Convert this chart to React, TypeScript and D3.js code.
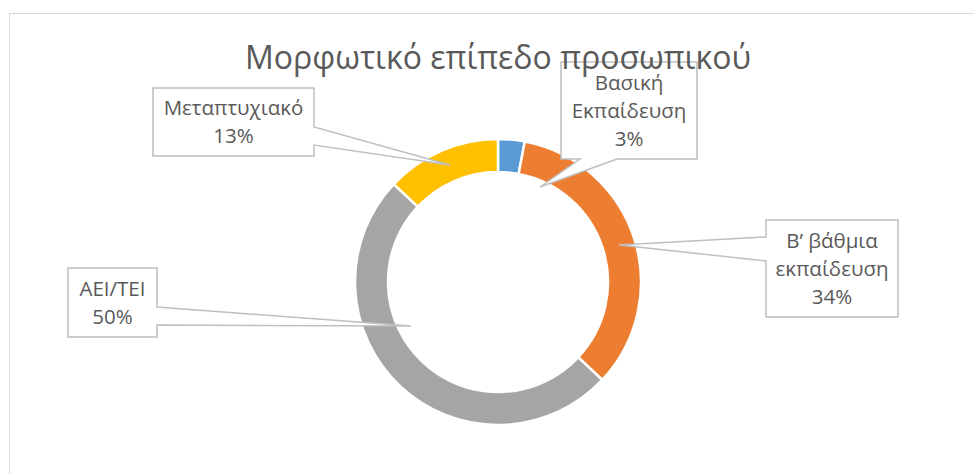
import * as d3 from "d3";

const categories = ["Βασική Εκπαίδευση", "Β’ βάθμια εκπαίδευση", "ΑΕΙ/ΤΕΙ", "Μεταπτυχιακό"];
const shares = [3, 34, 50, 13];
const colors = ["#5b9bd5", "#ed7d31", "#a5a5a5", "#ffc000"];
const labelLines = [
  ["Βασική", "Εκπαίδευση", "3%"],
  ["B’ βάθμια", "εκπαίδευση", "34%"],
  ["AEI/TEI", "50%"],
  ["Μεταπτυχιακό", "13%"],
];

// callout boxes: box edges, side the pointer leaves from, pointer base and tip
const callouts = [
  { x0: 561, y0: 62, x1: 697, y1: 159, side: "bottom", a: 617, b: 580, tip: [540, 187] },
  { x0: 766, y0: 220, x1: 898, y1: 317, side: "left", a: 261, b: 237, tip: [619, 245] },
  { x0: 68, y0: 268, x1: 157, y1: 337, side: "right", a: 307, b: 325, tip: [411, 326] },
  { x0: 153, y0: 88, x1: 314, y1: 156, side: "right", a: 127, b: 145, tip: [450, 165] },
];

const width = 974;
const height = 474;
const cx = 498;
const cy = 282;
const outerR = 143;
const innerR = 110;
const font = "'Open Sans', 'Noto Sans', sans-serif";

function calloutPath(c: any) {
  const { x0, y0, x1, y1, side, a, b, tip } = c;
  const pts: number[][] = [[x0, y0], [x1, y0]];
  if (side === "right") pts.push([x1, a], tip, [x1, b]);
  pts.push([x1, y1]);
  if (side === "bottom") pts.push([a, y1], tip, [b, y1]);
  pts.push([x0, y1]);
  if (side === "left") pts.push([x0, a], tip, [x0, b]);
  return d3.line()(pts as [number, number][]) + "Z";
}

export default function App() {
  const pie = d3.pie<number>().sort(null).value((d) => d)(shares);
  const arc = d3.arc<d3.PieArcDatum<number>>().innerRadius(innerR).outerRadius(outerR);

  return (
    <svg
      width={width}
      height={height}
      style={{ position: "absolute", left: 0, top: 0, background: "#fff" }}
    >
      <rect x={9.5} y={13.5} width={width} height={height} fill="#fff" stroke="#d9d9d9" strokeWidth={1} />
      <g transform={`translate(${cx},${cy})`}>
        {pie.map((d, i) => (
          <path key={categories[i]} d={arc(d) ?? ""} fill={colors[i]} stroke="#fff" strokeWidth={2.5} />
        ))}
      </g>
      {callouts.map((c, i) => {
        const lines = labelLines[i];
        const lh = 28;
        const mid = (c.y0 + c.y1) / 2;
        const start = mid - ((lines.length - 1) * lh) / 2;
        return (
          <g key={categories[i]}>
            <path d={calloutPath(c)} fill="#fff" stroke="#bfbfbf" strokeWidth={1.5} strokeLinejoin="miter" />
            {lines.map((t, j) => (
              <text
                key={j}
                x={(c.x0 + c.x1) / 2}
                y={start + j * lh}
                dy="0.35em"
                textAnchor="middle"
                fontFamily={font}
                fontSize={20.5}
                fill="#595959"
              >
                {t}
              </text>
            ))}
          </g>
        );
      })}
      <text
        x={cx}
        y={69}
        textAnchor="middle"
        fontFamily={font}
        fontSize={32}
        fill="#595959"
      >
        Μορφωτικό επίπεδο προσωπικού
      </text>
    </svg>
  );
}
